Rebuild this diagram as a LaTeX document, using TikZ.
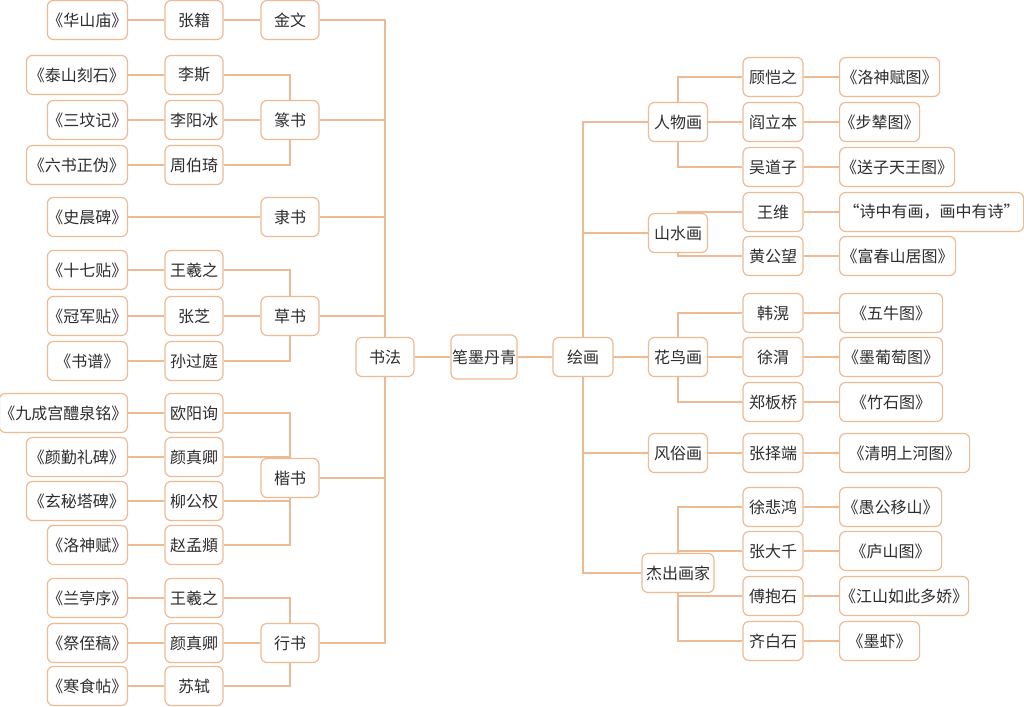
\documentclass[tikz,border=0pt]{standalone}
\usepackage{fontspec}
\setmainfont{Noto Sans CJK SC}
\usetikzlibrary{backgrounds}
\definecolor{edgec}{RGB}{238,186,148}
\definecolor{txt}{RGB}{45,45,45}
\tikzset{
  box/.style={draw=edgec, line width=1.2pt, rounded corners=6pt, fill=white,
    minimum height=39pt, inner sep=0pt, text=txt, font=\fontsize{16}{16}\selectfont},
  lw/.style={box, minimum width=80pt, anchor=east},
  rw/.style={box, anchor=west},
  lp/.style={box, minimum width=58pt},
  rp/.style={box, minimum width=60pt},
  link/.style={draw=edgec, line width=1.2pt},
}
\begin{document}
\begin{tikzpicture}[x=1pt,y=-1pt]
\useasboundingbox (0,0) rectangle (1024,706);
% left titles
\node[lw] (tA) at (128,20) {《华山庙》};
\node[lw,minimum width=101pt] (tB) at (128,75) {《泰山刻石》};
\node[lw] (tC) at (128,120) {《三坟记》};
\node[lw,minimum width=101pt] (tD) at (128,165) {《六书正伪》};
\node[lw] (tE) at (128,217) {《史晨碑》};
\node[lw] (tF) at (128,270) {《十七贴》};
\node[lw] (tG) at (128,316) {《冠军贴》};
\node[lw] (tH) at (128,361) {《书谱》};
\node[lw,minimum width=123pt] (tI) at (128,413) {《九成宫醴泉铭》};
\node[lw,minimum width=101pt] (tJ) at (128,457) {《颜勤礼碑》};
\node[lw,minimum width=101pt] (tK) at (128,501) {《玄秘塔碑》};
\node[lw] (tL) at (128,545) {《洛神赋》};
\node[lw] (tM) at (128,598) {《兰亭序》};
\node[lw] (tN) at (128,643) {《祭侄稿》};
\node[lw] (tO) at (128,686) {《寒食帖》};
% left persons
\node[lp] (pA) at (194,20) {张籍};
\node[lp] (pB) at (194,75) {李斯};
\node[lp] (pC) at (194,120) {李阳冰};
\node[lp] (pD) at (194,165) {周伯琦};
\node[lp] (pF) at (194,270) {王羲之};
\node[lp] (pG) at (194,316) {张芝};
\node[lp] (pH) at (194,361) {孙过庭};
\node[lp] (pI) at (194,413) {欧阳询};
\node[lp] (pJ) at (194,457) {颜真卿};
\node[lp] (pK) at (194,501) {柳公权};
\node[lp] (pL) at (194,545) {赵孟頫};
\node[lp] (pM) at (194,598) {王羲之};
\node[lp] (pN) at (194,643) {颜真卿};
\node[lp] (pO) at (194,686) {苏轼};
% left categories
\node[lp] (c1) at (290,20) {金文};
\node[lp] (c2) at (290,120) {篆书};
\node[lp] (c3) at (290,217) {隶书};
\node[lp] (c4) at (290,316) {草书};
\node[lp] (c5) at (290,478) {楷书};
\node[lp] (c6) at (290,643) {行书};
% centre
\node[lp] (shufa) at (385,357) {书法};
\node[box,minimum width=66pt,minimum height=44pt] (bmdq) at (484,357) {笔墨丹青};
\node[rp] (huihua) at (583,357) {绘画};
% right categories
\node[box,minimum width=59pt] (r1) at (678,122) {人物画};
\node[box,minimum width=59pt] (r2) at (678,233) {山水画};
\node[box,minimum width=59pt] (r3) at (678,357) {花鸟画};
\node[box,minimum width=59pt] (r4) at (678,453) {风俗画};
\node[box,minimum width=72pt] (r5) at (678,573) {杰出画家};
% right persons
\node[rp] (q1) at (773,77) {顾恺之};
\node[rp] (q2) at (773,122) {阎立本};
\node[rp] (q3) at (773,167) {吴道子};
\node[rp] (q4) at (773,212) {王维};
\node[rp] (q5) at (773,256) {黄公望};
\node[rp] (q6) at (773,313) {韩滉};
\node[rp] (q7) at (773,357) {徐渭};
\node[rp] (q8) at (773,402) {郑板桥};
\node[rp] (q9) at (773,453) {张择端};
\node[rp] (q10) at (773,507) {徐悲鸿};
\node[rp] (q11) at (773,551) {张大千};
\node[rp] (q12) at (773,596) {傅抱石};
\node[rp] (q13) at (773,641) {齐白石};
% right works
\node[rw,minimum width=100pt] (w1) at (839,77) {《洛神赋图》};
\node[rw,minimum width=80pt] (w2) at (839,122) {《步辇图》};
\node[rw,minimum width=115pt] (w3) at (839,167) {《送子天王图》};
\node[rw,minimum width=184pt] (w4) at (839,212) {“诗中有画，画中有诗”};
\node[rw,minimum width=116pt] (w5) at (839,256) {《富春山居图》};
\node[rw,minimum width=103pt] (w6) at (839,313) {《五牛图》};
\node[rw,minimum width=103pt] (w7) at (839,357) {《墨葡萄图》};
\node[rw,minimum width=103pt] (w8) at (839,402) {《竹石图》};
\node[rw,minimum width=130pt] (w9) at (839,453) {《清明上河图》};
\node[rw,minimum width=102pt] (w10) at (839,507) {《愚公移山》};
\node[rw,minimum width=102pt] (w11) at (839,551) {《庐山图》};
\node[rw,minimum width=129pt] (w12) at (839,596) {《江山如此多娇》};
\node[rw,minimum width=80pt] (w13) at (839,641) {《墨虾》};

\begin{scope}[on background layer]
\fill[white] (0,0) rectangle (1024,706);
% left side
\foreach \a/\b in {tA/pA,tB/pB,tC/pC,tD/pD,tE/c3,tF/pF,tG/pG,tH/pH,tI/pI,tJ/pJ,tK/pK,tL/pL,tM/pM,tN/pN,tO/pO,pA/c1,pC/c2,pG/c4,pN/c6}
  \draw[link] (\a) -- (\b);
\foreach \a/\b in {pB/c2,pD/c2,pF/c4,pH/c4,pI/c5,pJ/c5,pK/c5,pL/c5,pM/c6,pO/c6,c1/shufa,c2/shufa,c3/shufa,c4/shufa,c5/shufa,c6/shufa}
  \draw[link] (\a) -| (\b);
\draw[link] (shufa) -- (bmdq) -- (huihua);
% right side
\foreach \b in {r1,r2,r3,r4,r5}
  \draw[link] (huihua) |- (\b);
\foreach \a/\b in {r1/q1,r1/q2,r1/q3,r2/q4,r2/q5,r3/q6,r3/q7,r3/q8,r4/q9,r5/q10,r5/q11,r5/q12,r5/q13}
  \draw[link] (\a) |- (\b);
\foreach \a/\b in {q1/w1,q2/w2,q3/w3,q4/w4,q5/w5,q6/w6,q7/w7,q8/w8,q9/w9,q10/w10,q11/w11,q12/w12,q13/w13}
  \draw[link] (\a) -- (\b);
\end{scope}
\end{tikzpicture}
\end{document}
